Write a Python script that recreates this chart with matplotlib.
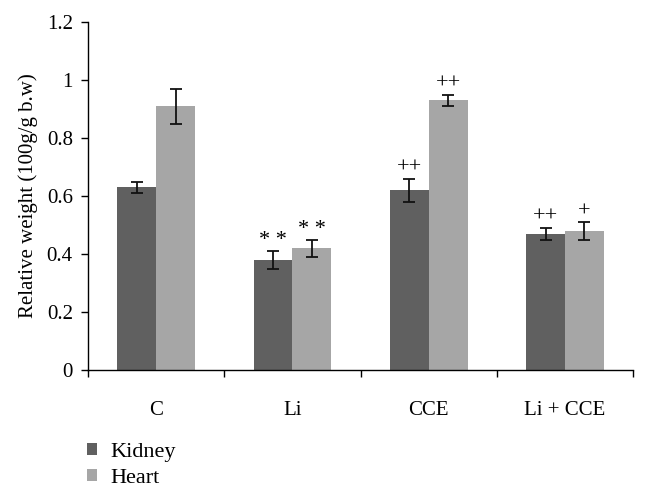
import numpy as np
import matplotlib.pyplot as plt

groups = ["C", "Li", "CCE", "Li + CCE"]
kidney = [0.63, 0.38, 0.62, 0.47]
kidney_err = [0.02, 0.03, 0.04, 0.02]
heart = [0.91, 0.42, 0.93, 0.48]
heart_err = [0.06, 0.03, 0.02, 0.03]
kidney_marks = ["", "* *", "++", "++"]
heart_marks = ["", "* *", "++", "+"]
yticks = [0, 0.2, 0.4, 0.6, 0.8, 1, 1.2]

plt.rcParams['font.family'] = ['Liberation Serif', 'DejaVu Serif']
plt.rcParams['font.size'] = 15

fig = plt.figure(figsize=(6.48, 4.97), dpi=100)
ax = fig.add_axes([0.136, 0.2555, 0.841, 0.700])

x = np.arange(len(groups))
w = 0.285
c_k = "#606060"
c_h = "#a6a6a6"
ax.bar(x - w/2, kidney, w, color=c_k, label="Kidney")
ax.bar(x + w/2, heart, w, color=c_h, label="Heart")
ax.errorbar(x - w/2, kidney, yerr=kidney_err, fmt="none", ecolor="#111111", elinewidth=1.3, capsize=4, capthick=1.3)
ax.errorbar(x + w/2, heart, yerr=heart_err, fmt="none", ecolor="#111111", elinewidth=1.3, capsize=4, capthick=1.3)

for i in range(len(groups)):
    if kidney_marks[i]:
        ax.text(x[i] - w/2, kidney[i] + kidney_err[i] + 0.003, kidney_marks[i], ha="center", va="bottom", fontsize=16)
    if heart_marks[i]:
        ax.text(x[i] + w/2, heart[i] + heart_err[i] + 0.003, heart_marks[i], ha="center", va="bottom", fontsize=16)

ax.set_xlim(-0.5, len(groups) - 0.5)
ax.set_ylim(0, 1.2)
ax.set_yticks(yticks)
ax.set_yticklabels([f"{v:g}" for v in yticks])
ax.set_xticks(np.arange(len(groups) + 1) - 0.5)
ax.set_xticklabels([])
ax.set_xticks(x, minor=True)
ax.set_xticklabels(groups, minor=True)
ax.tick_params(axis="x", which="minor", length=0, pad=22)
ax.tick_params(axis="x", which="major", length=5, width=1)
ax.tick_params(axis="y", length=5, width=1, pad=6)
ax.spines["top"].set_visible(False)
ax.spines["right"].set_visible(False)
ax.spines["left"].set_linewidth(1)
ax.spines["bottom"].set_linewidth(1)
ax.set_ylabel("Relative weight (100g/g b.w)", labelpad=6)

fig.legend(loc="lower left", bbox_to_anchor=(0.134, 0.018), frameon=False, fontsize=16,
           borderpad=0, borderaxespad=0,
           handlelength=0.45, handleheight=0.45, handletextpad=0.6, labelspacing=0.3)

fig.savefig("out.png", dpi=100)
